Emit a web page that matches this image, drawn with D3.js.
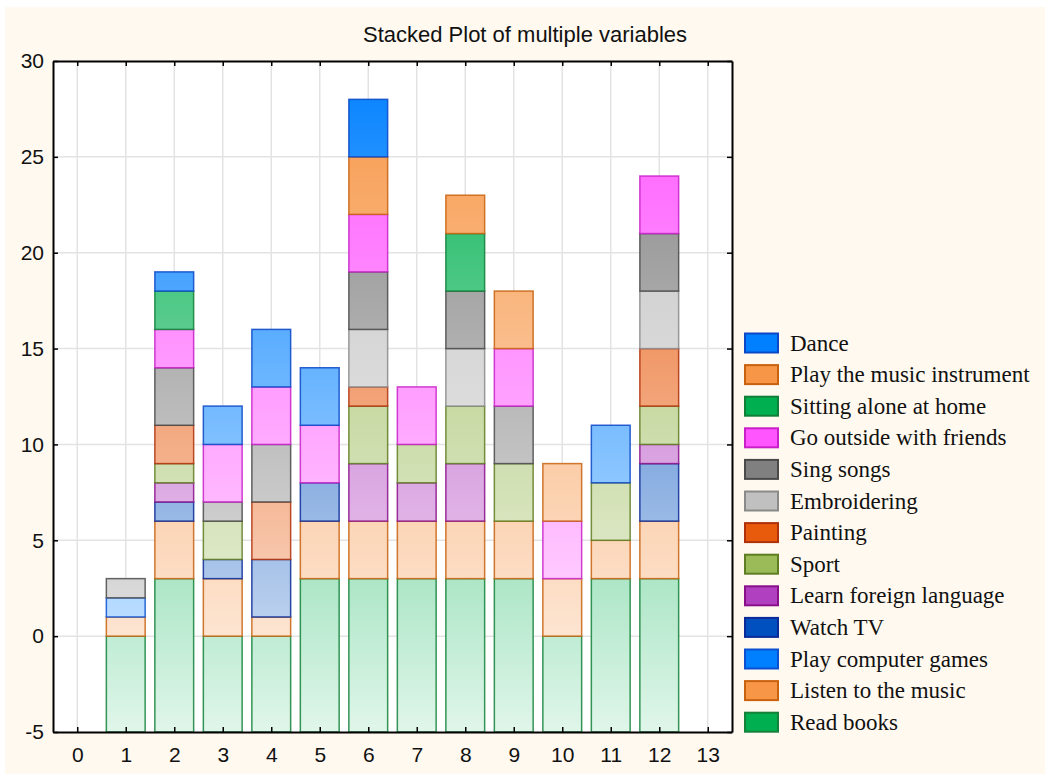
<!DOCTYPE html>
<html>
<head>
<meta charset="utf-8">
<script src="https://cdn.jsdelivr.net/npm/d3@7"></script>
<style>
  html, body { margin: 0; padding: 0; background: #ffffff; }
  svg { display: block; }
</style>
</head>
<body>
<svg id="chart" width="1045" height="776"></svg>
<script>
// ---------------- DATA ----------------
const categories = [1, 2, 3, 4, 5, 6, 7, 8, 9, 10, 11, 12];
const xTicks = [0, 1, 2, 3, 4, 5, 6, 7, 8, 9, 10, 11, 12, 13];
const yTicks = [-5, 0, 5, 10, 15, 20, 25, 30];

// stack order, bottom to top
const seriesNames = [
  "Read books", "Listen to the music", "Play computer games", "Watch TV",
  "Learn foreign language", "Sport", "Painting", "Embroidering", "Sing songs",
  "Go outside with friends", "Sitting alone at home", "Play the music instrument", "Dance"
];
const readBooks        = [0, 3, 0, 0, 3, 3, 3, 3, 3, 0, 3, 3];
const listenMusic      = [1, 3, 3, 1, 3, 3, 3, 3, 3, 3, 2, 3];
const computerGames    = [1, 0, 0, 0, 0, 0, 0, 0, 0, 0, 0, 0];
const watchTV          = [0, 1, 1, 3, 2, 0, 0, 0, 0, 0, 0, 3];
const learnLanguage    = [0, 1, 0, 0, 0, 3, 2, 3, 0, 0, 0, 1];
const sport            = [0, 1, 2, 0, 0, 3, 2, 3, 3, 0, 3, 2];
const painting         = [0, 2, 0, 3, 0, 1, 0, 0, 0, 0, 0, 3];
const embroidering     = [0, 0, 0, 0, 0, 3, 0, 3, 0, 0, 0, 3];
const singSongs        = [1, 3, 1, 3, 0, 3, 0, 3, 3, 0, 0, 3];
const goOutside        = [0, 2, 3, 3, 3, 3, 3, 0, 3, 3, 0, 3];
const sittingAlone     = [0, 2, 0, 0, 0, 0, 0, 3, 0, 0, 0, 0];
const playInstrument   = [0, 0, 0, 0, 0, 3, 0, 2, 3, 3, 0, 0];
const dance            = [0, 1, 2, 3, 3, 3, 0, 0, 0, 0, 3, 0];
const seriesValues = [readBooks, listenMusic, computerGames, watchTV, learnLanguage, sport,
  painting, embroidering, singSongs, goOutside, sittingAlone, playInstrument, dance];

const fillColors = ["#00b050", "#f79646", "#0080ff", "#0050c0", "#b040c0", "#9bbb59",
  "#e85a0c", "#c0c0c0", "#808080", "#ff55ff", "#00b050", "#f79646", "#0080ff"];
const strokeColors = ["#14823a", "#c8620e", "#0a50d0", "#0a2a98", "#8a108a", "#5f7d22",
  "#b0300a", "#8a8a8a", "#4a4a4a", "#c820c8", "#108038", "#c8620e", "#0a48c8"];

const title = "Stacked Plot of multiple variables";

// ---------------- LAYOUT ----------------
const svg = d3.select("#chart");
const W = 1045, H = 776;
const plot = { left: 53, right: 732, top: 61, bottom: 732 };

const x = d3.scaleLinear().domain([-0.5, 13.5]).range([plot.left, plot.right]);
const y = d3.scaleLinear().domain([-5, 30]).range([plot.bottom, plot.top]);
const barW = x(0.8) - x(0);

// backgrounds
svg.append("rect").attr("x", 0).attr("y", 0).attr("width", W).attr("height", H).attr("fill", "#ffffff");
svg.append("rect").attr("x", 5).attr("y", 7).attr("width", W - 5).attr("height", H - 9).attr("fill", "#fff9ef");
svg.append("rect").attr("x", plot.left).attr("y", plot.top)
  .attr("width", plot.right - plot.left).attr("height", plot.bottom - plot.top).attr("fill", "#ffffff");

// gradients (colour fades toward white at the bottom of the plot)
const defs = svg.append("defs");
fillColors.forEach((c, i) => {
  const g = defs.append("linearGradient").attr("id", "grad" + i)
    .attr("gradientUnits", "userSpaceOnUse")
    .attr("x1", 0).attr("x2", 0).attr("y1", y(30)).attr("y2", y(-5));
  g.append("stop").attr("offset", 0).attr("stop-color", c);
  g.append("stop").attr("offset", 1).attr("stop-color", d3.interpolateRgb(c, "#ffffff")(0.88));
});

// grid
const grid = svg.append("g");
grid.selectAll("line.v").data(xTicks).join("line")
  .attr("x1", d => x(d)).attr("x2", d => x(d)).attr("y1", plot.top).attr("y2", plot.bottom)
  .attr("stroke", "#e3e3e3").attr("stroke-width", 1.5);
grid.selectAll("line.h").data(yTicks.filter(d => d > -5 && d < 30)).join("line")
  .attr("x1", plot.left).attr("x2", plot.right).attr("y1", d => y(d)).attr("y2", d => y(d))
  .attr("stroke", "#e3e3e3").attr("stroke-width", 1.5);

// stacked bars
const segments = [];
categories.forEach((cat, ci) => {
  let base = y.domain()[0];
  seriesValues.forEach((vals, si) => {
    let top;
    if (si === 0) top = vals[ci];
    else top = base + vals[ci];
    if (top > base) segments.push({ cat, si, y0: base, y1: top });
    base = Math.max(top, base);
  });
});

svg.append("g").selectAll("rect").data(segments).join("rect")
  .attr("x", d => x(d.cat) - barW / 2)
  .attr("width", barW)
  .attr("y", d => y(d.y1))
  .attr("height", d => y(d.y0) - y(d.y1))
  .attr("fill", d => "url(#grad" + d.si + ")")
  .attr("stroke", d => strokeColors[d.si])
  .attr("stroke-opacity", 0.85)
  .attr("stroke-width", 1.5);

// axes
const fontAxis = "'Liberation Sans', Arial, sans-serif";
const fmt = d => String(d);
const axB = svg.append("g").attr("transform", `translate(0,${plot.bottom})`)
  .call(d3.axisBottom(x).tickValues(xTicks).tickSize(-5).tickSizeOuter(0).tickPadding(15).tickFormat(fmt));
const axT = svg.append("g").attr("transform", `translate(0,${plot.top})`)
  .call(d3.axisTop(x).tickValues(xTicks).tickSize(-5).tickSizeOuter(0).tickFormat(""));
const axL = svg.append("g").attr("transform", `translate(${plot.left},0)`)
  .call(d3.axisLeft(y).tickValues(yTicks).tickSize(-5).tickSizeOuter(0).tickPadding(9).tickFormat(fmt));
const axR = svg.append("g").attr("transform", `translate(${plot.right},0)`)
  .call(d3.axisRight(y).tickValues(yTicks).tickSize(-5).tickSizeOuter(0).tickFormat(""));
[axB, axT, axL, axR].forEach(a => {
  a.select(".domain").attr("stroke", "#000").attr("stroke-width", 2);
  a.selectAll(".tick line").attr("stroke", "#000").attr("stroke-width", 1.5);
  a.selectAll("text").attr("font-family", fontAxis).attr("font-size", 21).attr("fill", "#111");
});

// title
svg.append("text").attr("x", 525).attr("y", 42).attr("text-anchor", "middle")
  .attr("font-family", fontAxis).attr("font-size", 22).attr("fill", "#111").text(title);

// legend (reverse stack order)
const legendOrder = d3.range(seriesNames.length).reverse();
const leg = svg.append("g");
const legItems = leg.selectAll("g").data(legendOrder).join("g")
  .attr("transform", (d, i) => `translate(745,${333.5 + i * 31.6})`);
legItems.append("rect").attr("width", 33).attr("height", 19)
  .attr("fill", d => fillColors[d]).attr("stroke", d => strokeColors[d]).attr("stroke-width", 2);
legItems.append("text").attr("x", 45).attr("y", 17)
  .attr("font-family", "'Liberation Serif', 'Times New Roman', serif").attr("font-size", 23)
  .attr("fill", "#111").text(d => seriesNames[d]);
</script>
</body>
</html>
